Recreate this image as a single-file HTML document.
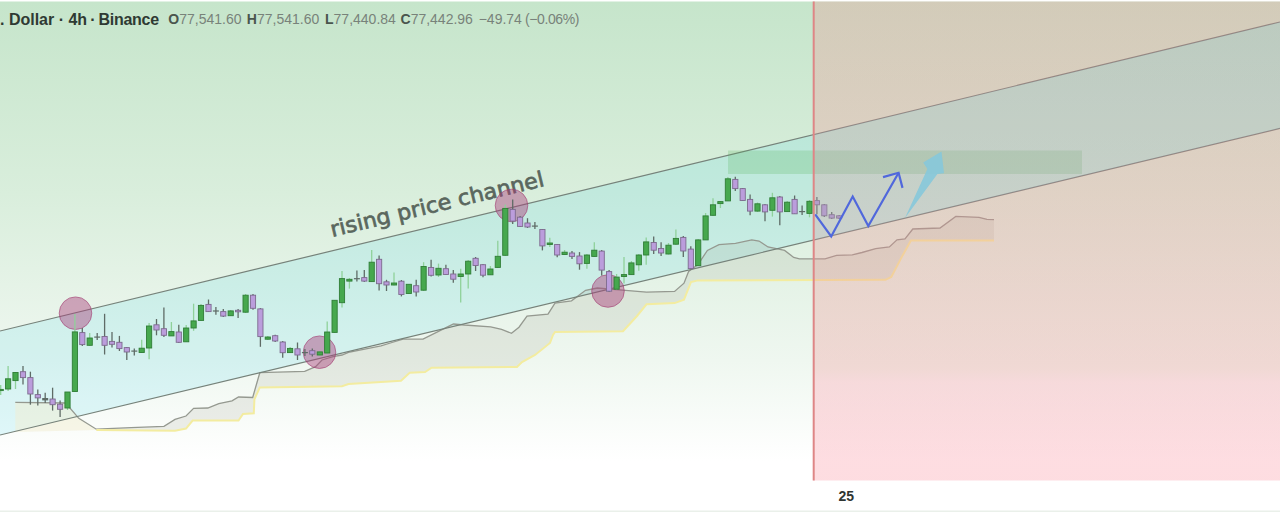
<!DOCTYPE html><html><head><meta charset="utf-8"><style>
html,body{margin:0;padding:0;background:#fff;}
#w{position:relative;width:1280px;height:512px;overflow:hidden;background:#fff;}
svg{position:absolute;left:0;top:0;}
.t{position:absolute;white-space:nowrap;font-family:"Liberation Sans","DejaVu Sans",sans-serif;}
</style></head><body><div id="w">
<svg width="1280" height="512" viewBox="0 0 1280 512">
<defs>
<linearGradient id="gL" x1="0" y1="0" x2="0" y2="1"><stop offset="0" stop-color="#c6e5cb"/><stop offset="0.4" stop-color="#d9eedc"/><stop offset="0.75" stop-color="#eff7f0"/><stop offset="0.93" stop-color="#fdfefd"/><stop offset="0.96" stop-color="#ffffff"/></linearGradient>
</defs>
<rect x="0" y="1.5" width="1280" height="479" fill="url(#gL)"/>
<clipPath id="cl"><rect x="0" y="0" width="813.3" height="512"/></clipPath><clipPath id="cr"><rect x="813.3" y="0" width="466.70000000000005" height="512"/></clipPath>
<polygon points="0,331.0 1280,22.0 1280,128.4 0,435.0" fill="#00c8f0" fill-opacity="0.11" clip-path="url(#cl)"/>
<polygon points="15.3,402.3 65.6,403.0 78.8,418.3 96.3,429.2 96.3,430.0 15.3,432.0" fill="#f2eed2" fill-opacity="0.5"/>
<polygon points="96.3,429.2 131.0,427.7 164.0,426.4 175.0,419.4 186.0,416.0 193.6,408.4 207.8,408.0 218.8,403.6 232.0,400.8 238.5,397.0 252.7,397.5 259.8,372.7 304.7,371.4 315.6,366.6 322.0,360.0 333.0,356.7 342.0,355.0 348.5,352.4 381.0,345.8 392.0,342.5 403.0,339.2 423.0,339.2 436.0,332.7 447.0,327.2 453.5,324.0 464.4,325.0 490.7,326.8 501.6,329.4 511.5,333.3 519.0,327.2 527.0,316.0 548.0,314.1 555.0,303.1 571.5,300.8 585.6,290.3 597.3,288.0 625.4,290.3 646.5,292.1 674.6,291.4 684.0,283.2 688.6,271.5 698.0,264.5 707.4,250.4 719.0,244.6 735.5,243.4 751.8,239.9 759.0,241.0 768.0,247.0 784.6,250.4 793.7,257.4 799.5,258.8 825.0,258.8 836.6,255.4 852.3,254.8 862.0,252.5 875.7,248.6 889.4,247.0 897.0,239.8 905.0,238.8 912.8,229.0 940.0,228.0 955.8,216.4 979.0,217.3 987.0,219.3 994.0,219.7 994.0,240.4 910.9,240.4 901.0,258.4 891.3,276.9 885.5,279.8 698.0,280.4 691.0,282.0 684.0,299.6 674.6,303.1 646.5,304.3 637.0,316.0 623.0,331.2 555.0,332.0 553.0,335.0 550.0,343.0 535.0,355.0 522.0,362.0 517.0,367.0 431.6,367.7 425.0,372.0 409.7,372.7 401.0,380.8 348.5,384.0 342.0,386.3 259.8,387.4 254.4,399.4 253.8,413.3 243.0,414.0 238.5,420.5 192.6,420.5 186.0,428.6 175.0,430.8 96.3,430.0" fill="#9a9a8a" fill-opacity="0.16"/>
<polyline points="15.3,402.3 65.6,403.0 78.8,418.3 96.3,429.2 131.0,427.7 164.0,426.4 175.0,419.4 186.0,416.0 193.6,408.4 207.8,408.0 218.8,403.6 232.0,400.8 238.5,397.0 252.7,397.5 259.8,372.7 304.7,371.4 315.6,366.6 322.0,360.0 333.0,356.7 342.0,355.0 348.5,352.4 381.0,345.8 392.0,342.5 403.0,339.2 423.0,339.2 436.0,332.7 447.0,327.2 453.5,324.0 464.4,325.0 490.7,326.8 501.6,329.4 511.5,333.3 519.0,327.2 527.0,316.0 548.0,314.1 555.0,303.1 571.5,300.8 585.6,290.3 597.3,288.0 625.4,290.3 646.5,292.1 674.6,291.4 684.0,283.2 688.6,271.5 698.0,264.5 707.4,250.4 719.0,244.6 735.5,243.4 751.8,239.9 759.0,241.0 768.0,247.0 784.6,250.4 793.7,257.4 799.5,258.8 825.0,258.8 836.6,255.4 852.3,254.8 862.0,252.5 875.7,248.6 889.4,247.0 897.0,239.8 905.0,238.8 912.8,229.0 940.0,228.0 955.8,216.4 979.0,217.3 987.0,219.3 994.0,219.7" fill="none" stroke="#959990" stroke-width="1.3"/>
<polyline points="96.3,430.0 175.0,430.8 186.0,428.6 192.6,420.5 238.5,420.5 243.0,414.0 253.8,413.3 254.4,399.4 259.8,387.4 342.0,386.3 348.5,384.0 401.0,380.8 409.7,372.7 425.0,372.0 431.6,367.7 517.0,367.0 522.0,362.0 535.0,355.0 550.0,343.0 553.0,335.0 555.0,332.0 623.0,331.2 637.0,316.0 646.5,304.3 674.6,303.1 684.0,299.6 691.0,282.0 698.0,280.4 885.5,279.8 891.3,276.9 901.0,258.4 910.9,240.4 994.0,240.4" fill="none" stroke="#f3eca0" stroke-width="2"/>
<line x1="0" y1="331.0" x2="1280" y2="22.0" stroke="#76827a" stroke-width="1.2"/>
<line x1="0" y1="435.0" x2="1280" y2="128.4" stroke="#76827a" stroke-width="1.2"/>
<rect x="728" y="150.5" width="354" height="23.5" fill="#4caf50" fill-opacity="0.22"/>
<text x="0" y="0" transform="translate(332.2,236.9) rotate(-13.5)" font-family="DejaVu Sans, sans-serif" font-size="21.5" fill="#5a675e" stroke="#5a675e" stroke-width="0.7" textLength="219" lengthAdjust="spacingAndGlyphs">rising price channel</text>
<circle cx="75.5" cy="313.2" r="16.3" fill="#a83c78" fill-opacity="0.44" stroke="#a03c70" stroke-opacity="0.6" stroke-width="1"/>
<circle cx="319.5" cy="352.2" r="16.3" fill="#a83c78" fill-opacity="0.44" stroke="#a03c70" stroke-opacity="0.6" stroke-width="1"/>
<circle cx="511.5" cy="205.5" r="16.3" fill="#a83c78" fill-opacity="0.44" stroke="#a03c70" stroke-opacity="0.6" stroke-width="1"/>
<circle cx="608" cy="291" r="16.3" fill="#a83c78" fill-opacity="0.44" stroke="#a03c70" stroke-opacity="0.6" stroke-width="1"/>
<line x1="0.7" y1="385.0" x2="0.7" y2="395.0" stroke="#8fd19a" stroke-width="1.3"/>
<rect x="-1.9" y="389.4" width="5.2" height="1.2" fill="#46a84e" stroke="#2f7d36" stroke-width="0.9"/>
<line x1="8.1" y1="366.0" x2="8.1" y2="391.0" stroke="#8fd19a" stroke-width="1.3"/>
<rect x="5.5" y="378.8" width="5.2" height="10.2" fill="#46a84e" stroke="#2f7d36" stroke-width="0.9"/>
<line x1="15.5" y1="372.0" x2="15.5" y2="389.0" stroke="#8fd19a" stroke-width="1.3"/>
<rect x="12.9" y="372.5" width="5.2" height="8.1" fill="#46a84e" stroke="#2f7d36" stroke-width="0.9"/>
<line x1="23.0" y1="366.0" x2="23.0" y2="384.4" stroke="#5f6b66" stroke-width="1.3"/>
<rect x="20.4" y="371.7" width="5.2" height="5.9" fill="#bb9ddc" stroke="#7d6a8e" stroke-width="0.9"/>
<line x1="30.4" y1="371.7" x2="30.4" y2="404.7" stroke="#5f6b66" stroke-width="1.3"/>
<rect x="27.8" y="377.6" width="5.2" height="16.4" fill="#bb9ddc" stroke="#7d6a8e" stroke-width="0.9"/>
<line x1="37.8" y1="389.5" x2="37.8" y2="405.5" stroke="#5f6b66" stroke-width="1.3"/>
<rect x="35.2" y="394.6" width="5.2" height="3.3" fill="#bb9ddc" stroke="#7d6a8e" stroke-width="0.9"/>
<line x1="45.2" y1="392.8" x2="45.2" y2="403.0" stroke="#5f6b66" stroke-width="1.3"/>
<rect x="42.2" y="398.0" width="6" height="2.4" fill="#5f6b66"/>
<line x1="52.6" y1="387.7" x2="52.6" y2="410.6" stroke="#5f6b66" stroke-width="1.3"/>
<rect x="50.0" y="399.0" width="5.2" height="5.7" fill="#bb9ddc" stroke="#7d6a8e" stroke-width="0.9"/>
<line x1="60.1" y1="400.4" x2="60.1" y2="417.0" stroke="#5f6b66" stroke-width="1.3"/>
<rect x="57.5" y="404.2" width="5.2" height="5.1" fill="#bb9ddc" stroke="#7d6a8e" stroke-width="0.9"/>
<line x1="67.5" y1="392.0" x2="67.5" y2="410.0" stroke="#8fd19a" stroke-width="1.3"/>
<rect x="64.9" y="392.0" width="5.2" height="16.0" fill="#46a84e" stroke="#2f7d36" stroke-width="0.9"/>
<line x1="74.9" y1="314.0" x2="74.9" y2="391.5" stroke="#8fd19a" stroke-width="1.3"/>
<rect x="72.3" y="331.9" width="5.2" height="59.6" fill="#46a84e" stroke="#2f7d36" stroke-width="0.9"/>
<line x1="82.3" y1="328.0" x2="82.3" y2="346.0" stroke="#5f6b66" stroke-width="1.3"/>
<rect x="79.7" y="332.6" width="5.2" height="12.0" fill="#bb9ddc" stroke="#7d6a8e" stroke-width="0.9"/>
<line x1="89.7" y1="333.0" x2="89.7" y2="346.0" stroke="#8fd19a" stroke-width="1.3"/>
<rect x="87.1" y="338.0" width="5.2" height="7.3" fill="#46a84e" stroke="#2f7d36" stroke-width="0.9"/>
<line x1="97.2" y1="333.0" x2="97.2" y2="340.0" stroke="#5f6b66" stroke-width="1.3"/>
<rect x="94.2" y="336.5" width="6" height="1.2" fill="#5f6b66"/>
<line x1="104.6" y1="313.8" x2="104.6" y2="354.5" stroke="#5f6b66" stroke-width="1.3"/>
<rect x="102.0" y="336.5" width="5.2" height="8.8" fill="#bb9ddc" stroke="#7d6a8e" stroke-width="0.9"/>
<line x1="112.0" y1="332.0" x2="112.0" y2="347.6" stroke="#5f6b66" stroke-width="1.3"/>
<rect x="109.4" y="341.4" width="5.2" height="2.9" fill="#bb9ddc" stroke="#7d6a8e" stroke-width="0.9"/>
<line x1="119.4" y1="335.9" x2="119.4" y2="351.0" stroke="#5f6b66" stroke-width="1.3"/>
<rect x="116.8" y="342.3" width="5.2" height="6.3" fill="#bb9ddc" stroke="#7d6a8e" stroke-width="0.9"/>
<line x1="126.8" y1="347.0" x2="126.8" y2="360.0" stroke="#5f6b66" stroke-width="1.3"/>
<rect x="124.2" y="347.6" width="5.2" height="4.4" fill="#bb9ddc" stroke="#7d6a8e" stroke-width="0.9"/>
<line x1="134.3" y1="348.6" x2="134.3" y2="355.4" stroke="#5f6b66" stroke-width="1.3"/>
<rect x="131.3" y="350.5" width="6" height="1.2" fill="#5f6b66"/>
<line x1="141.7" y1="339.8" x2="141.7" y2="353.0" stroke="#8fd19a" stroke-width="1.3"/>
<rect x="139.1" y="348.2" width="5.2" height="4.3" fill="#46a84e" stroke="#2f7d36" stroke-width="0.9"/>
<line x1="149.1" y1="323.0" x2="149.1" y2="359.3" stroke="#8fd19a" stroke-width="1.3"/>
<rect x="146.5" y="326.0" width="5.2" height="22.0" fill="#46a84e" stroke="#2f7d36" stroke-width="0.9"/>
<line x1="156.5" y1="319.0" x2="156.5" y2="335.3" stroke="#5f6b66" stroke-width="1.3"/>
<rect x="153.9" y="324.8" width="5.2" height="5.2" fill="#bb9ddc" stroke="#7d6a8e" stroke-width="0.9"/>
<line x1="163.9" y1="307.6" x2="163.9" y2="336.9" stroke="#5f6b66" stroke-width="1.3"/>
<rect x="161.3" y="328.7" width="5.2" height="6.6" fill="#bb9ddc" stroke="#7d6a8e" stroke-width="0.9"/>
<line x1="171.4" y1="322.0" x2="171.4" y2="336.0" stroke="#8fd19a" stroke-width="1.3"/>
<rect x="168.8" y="331.6" width="5.2" height="4.3" fill="#46a84e" stroke="#2f7d36" stroke-width="0.9"/>
<line x1="178.8" y1="324.8" x2="178.8" y2="343.0" stroke="#5f6b66" stroke-width="1.3"/>
<rect x="176.2" y="332.0" width="5.2" height="10.3" fill="#bb9ddc" stroke="#7d6a8e" stroke-width="0.9"/>
<line x1="186.2" y1="325.0" x2="186.2" y2="342.0" stroke="#8fd19a" stroke-width="1.3"/>
<rect x="183.6" y="328.0" width="5.2" height="13.8" fill="#46a84e" stroke="#2f7d36" stroke-width="0.9"/>
<line x1="193.6" y1="303.7" x2="193.6" y2="330.8" stroke="#8fd19a" stroke-width="1.3"/>
<rect x="191.0" y="320.9" width="5.2" height="7.1" fill="#46a84e" stroke="#2f7d36" stroke-width="0.9"/>
<line x1="201.0" y1="304.0" x2="201.0" y2="321.0" stroke="#8fd19a" stroke-width="1.3"/>
<rect x="198.4" y="305.4" width="5.2" height="15.0" fill="#46a84e" stroke="#2f7d36" stroke-width="0.9"/>
<line x1="208.5" y1="299.5" x2="208.5" y2="312.0" stroke="#5f6b66" stroke-width="1.3"/>
<rect x="205.9" y="304.4" width="5.2" height="7.2" fill="#bb9ddc" stroke="#7d6a8e" stroke-width="0.9"/>
<line x1="215.9" y1="307.0" x2="215.9" y2="314.8" stroke="#5f6b66" stroke-width="1.3"/>
<rect x="212.9" y="310.4" width="6" height="1.2" fill="#5f6b66"/>
<line x1="223.3" y1="309.0" x2="223.3" y2="317.0" stroke="#5f6b66" stroke-width="1.3"/>
<rect x="220.7" y="311.6" width="5.2" height="4.5" fill="#bb9ddc" stroke="#7d6a8e" stroke-width="0.9"/>
<line x1="230.7" y1="310.0" x2="230.7" y2="316.0" stroke="#8fd19a" stroke-width="1.3"/>
<rect x="228.1" y="310.9" width="5.2" height="4.8" fill="#46a84e" stroke="#2f7d36" stroke-width="0.9"/>
<line x1="238.1" y1="309.0" x2="238.1" y2="318.0" stroke="#5f6b66" stroke-width="1.3"/>
<rect x="235.5" y="310.3" width="5.2" height="1.5" fill="#bb9ddc" stroke="#7d6a8e" stroke-width="0.9"/>
<line x1="245.6" y1="294.0" x2="245.6" y2="313.0" stroke="#8fd19a" stroke-width="1.3"/>
<rect x="243.0" y="295.2" width="5.2" height="17.0" fill="#46a84e" stroke="#2f7d36" stroke-width="0.9"/>
<line x1="253.0" y1="294.0" x2="253.0" y2="309.7" stroke="#5f6b66" stroke-width="1.3"/>
<rect x="250.4" y="295.2" width="5.2" height="13.1" fill="#bb9ddc" stroke="#7d6a8e" stroke-width="0.9"/>
<line x1="260.4" y1="308.0" x2="260.4" y2="346.8" stroke="#5f6b66" stroke-width="1.3"/>
<rect x="257.8" y="308.9" width="5.2" height="27.7" fill="#bb9ddc" stroke="#7d6a8e" stroke-width="0.9"/>
<line x1="267.8" y1="336.0" x2="267.8" y2="340.0" stroke="#8fd19a" stroke-width="1.3"/>
<rect x="265.2" y="337.0" width="5.2" height="2.2" fill="#46a84e" stroke="#2f7d36" stroke-width="0.9"/>
<line x1="275.2" y1="334.7" x2="275.2" y2="342.0" stroke="#5f6b66" stroke-width="1.3"/>
<rect x="272.6" y="335.7" width="5.2" height="5.3" fill="#bb9ddc" stroke="#7d6a8e" stroke-width="0.9"/>
<line x1="282.7" y1="341.0" x2="282.7" y2="357.7" stroke="#5f6b66" stroke-width="1.3"/>
<rect x="280.1" y="342.0" width="5.2" height="10.7" fill="#bb9ddc" stroke="#7d6a8e" stroke-width="0.9"/>
<line x1="290.1" y1="347.0" x2="290.1" y2="353.0" stroke="#8fd19a" stroke-width="1.3"/>
<rect x="287.5" y="348.4" width="5.2" height="4.2" fill="#46a84e" stroke="#2f7d36" stroke-width="0.9"/>
<line x1="297.5" y1="342.5" x2="297.5" y2="360.0" stroke="#5f6b66" stroke-width="1.3"/>
<rect x="294.9" y="348.8" width="5.2" height="6.2" fill="#bb9ddc" stroke="#7d6a8e" stroke-width="0.9"/>
<line x1="304.9" y1="349.0" x2="304.9" y2="356.0" stroke="#5f6b66" stroke-width="1.3"/>
<rect x="301.9" y="352.0" width="6" height="1.2" fill="#5f6b66"/>
<line x1="312.3" y1="348.5" x2="312.3" y2="356.5" stroke="#5f6b66" stroke-width="1.3"/>
<rect x="309.7" y="350.7" width="5.2" height="3.5" fill="#bb9ddc" stroke="#7d6a8e" stroke-width="0.9"/>
<line x1="319.8" y1="351.0" x2="319.8" y2="356.0" stroke="#8fd19a" stroke-width="1.3"/>
<rect x="317.2" y="351.9" width="5.2" height="3.1" fill="#46a84e" stroke="#2f7d36" stroke-width="0.9"/>
<line x1="327.2" y1="321.4" x2="327.2" y2="354.0" stroke="#8fd19a" stroke-width="1.3"/>
<rect x="324.6" y="332.0" width="5.2" height="21.0" fill="#46a84e" stroke="#2f7d36" stroke-width="0.9"/>
<line x1="334.6" y1="300.0" x2="334.6" y2="333.0" stroke="#8fd19a" stroke-width="1.3"/>
<rect x="332.0" y="300.3" width="5.2" height="32.1" fill="#46a84e" stroke="#2f7d36" stroke-width="0.9"/>
<line x1="342.0" y1="271.0" x2="342.0" y2="307.4" stroke="#8fd19a" stroke-width="1.3"/>
<rect x="339.4" y="278.6" width="5.2" height="24.1" fill="#46a84e" stroke="#2f7d36" stroke-width="0.9"/>
<line x1="349.4" y1="278.0" x2="349.4" y2="288.6" stroke="#8fd19a" stroke-width="1.3"/>
<rect x="346.8" y="279.3" width="5.2" height="1.8" fill="#46a84e" stroke="#2f7d36" stroke-width="0.9"/>
<line x1="356.9" y1="270.6" x2="356.9" y2="281.6" stroke="#5f6b66" stroke-width="1.3"/>
<rect x="353.9" y="278.1" width="6" height="1.2" fill="#5f6b66"/>
<line x1="364.3" y1="270.0" x2="364.3" y2="282.0" stroke="#5f6b66" stroke-width="1.3"/>
<rect x="361.7" y="277.6" width="5.2" height="3.5" fill="#bb9ddc" stroke="#7d6a8e" stroke-width="0.9"/>
<line x1="371.7" y1="250.0" x2="371.7" y2="282.0" stroke="#8fd19a" stroke-width="1.3"/>
<rect x="369.1" y="262.2" width="5.2" height="19.4" fill="#46a84e" stroke="#2f7d36" stroke-width="0.9"/>
<line x1="379.1" y1="255.4" x2="379.1" y2="290.5" stroke="#5f6b66" stroke-width="1.3"/>
<rect x="376.5" y="259.3" width="5.2" height="24.4" fill="#bb9ddc" stroke="#7d6a8e" stroke-width="0.9"/>
<line x1="386.5" y1="279.8" x2="386.5" y2="291.0" stroke="#5f6b66" stroke-width="1.3"/>
<rect x="383.9" y="281.8" width="5.2" height="3.2" fill="#bb9ddc" stroke="#7d6a8e" stroke-width="0.9"/>
<line x1="394.0" y1="272.6" x2="394.0" y2="285.5" stroke="#8fd19a" stroke-width="1.3"/>
<rect x="391.4" y="283.0" width="5.2" height="2.0" fill="#46a84e" stroke="#2f7d36" stroke-width="0.9"/>
<line x1="401.4" y1="280.0" x2="401.4" y2="296.4" stroke="#5f6b66" stroke-width="1.3"/>
<rect x="398.8" y="281.2" width="5.2" height="13.3" fill="#bb9ddc" stroke="#7d6a8e" stroke-width="0.9"/>
<line x1="408.8" y1="284.0" x2="408.8" y2="294.0" stroke="#8fd19a" stroke-width="1.3"/>
<rect x="406.2" y="284.3" width="5.2" height="9.2" fill="#46a84e" stroke="#2f7d36" stroke-width="0.9"/>
<line x1="416.2" y1="279.8" x2="416.2" y2="296.4" stroke="#5f6b66" stroke-width="1.3"/>
<rect x="413.6" y="285.7" width="5.2" height="6.3" fill="#bb9ddc" stroke="#7d6a8e" stroke-width="0.9"/>
<line x1="423.6" y1="262.2" x2="423.6" y2="291.0" stroke="#8fd19a" stroke-width="1.3"/>
<rect x="421.0" y="266.5" width="5.2" height="23.7" fill="#46a84e" stroke="#2f7d36" stroke-width="0.9"/>
<line x1="431.1" y1="259.7" x2="431.1" y2="276.5" stroke="#5f6b66" stroke-width="1.3"/>
<rect x="428.5" y="267.5" width="5.2" height="7.8" fill="#bb9ddc" stroke="#7d6a8e" stroke-width="0.9"/>
<line x1="438.5" y1="263.6" x2="438.5" y2="277.0" stroke="#8fd19a" stroke-width="1.3"/>
<rect x="435.9" y="268.3" width="5.2" height="6.7" fill="#46a84e" stroke="#2f7d36" stroke-width="0.9"/>
<line x1="445.9" y1="264.8" x2="445.9" y2="275.0" stroke="#5f6b66" stroke-width="1.3"/>
<rect x="443.3" y="268.7" width="5.2" height="5.8" fill="#bb9ddc" stroke="#7d6a8e" stroke-width="0.9"/>
<line x1="453.3" y1="270.0" x2="453.3" y2="282.7" stroke="#5f6b66" stroke-width="1.3"/>
<rect x="450.7" y="274.0" width="5.2" height="5.2" fill="#bb9ddc" stroke="#7d6a8e" stroke-width="0.9"/>
<line x1="460.7" y1="268.7" x2="460.7" y2="302.6" stroke="#8fd19a" stroke-width="1.3"/>
<rect x="458.1" y="274.0" width="5.2" height="2.5" fill="#46a84e" stroke="#2f7d36" stroke-width="0.9"/>
<line x1="468.2" y1="260.0" x2="468.2" y2="288.6" stroke="#8fd19a" stroke-width="1.3"/>
<rect x="465.6" y="261.2" width="5.2" height="12.8" fill="#46a84e" stroke="#2f7d36" stroke-width="0.9"/>
<line x1="475.6" y1="257.0" x2="475.6" y2="271.0" stroke="#5f6b66" stroke-width="1.3"/>
<rect x="473.0" y="258.3" width="5.2" height="7.2" fill="#bb9ddc" stroke="#7d6a8e" stroke-width="0.9"/>
<line x1="483.0" y1="264.0" x2="483.0" y2="277.2" stroke="#5f6b66" stroke-width="1.3"/>
<rect x="480.4" y="264.7" width="5.2" height="10.5" fill="#bb9ddc" stroke="#7d6a8e" stroke-width="0.9"/>
<line x1="490.4" y1="266.0" x2="490.4" y2="275.0" stroke="#8fd19a" stroke-width="1.3"/>
<rect x="487.8" y="269.0" width="5.2" height="5.8" fill="#46a84e" stroke="#2f7d36" stroke-width="0.9"/>
<line x1="497.8" y1="240.7" x2="497.8" y2="268.0" stroke="#8fd19a" stroke-width="1.3"/>
<rect x="495.2" y="256.3" width="5.2" height="11.1" fill="#46a84e" stroke="#2f7d36" stroke-width="0.9"/>
<line x1="505.3" y1="204.5" x2="505.3" y2="256.0" stroke="#8fd19a" stroke-width="1.3"/>
<rect x="502.7" y="208.4" width="5.2" height="46.9" fill="#46a84e" stroke="#2f7d36" stroke-width="0.9"/>
<line x1="512.7" y1="199.6" x2="512.7" y2="224.0" stroke="#5f6b66" stroke-width="1.3"/>
<rect x="510.1" y="209.4" width="5.2" height="11.7" fill="#bb9ddc" stroke="#7d6a8e" stroke-width="0.9"/>
<line x1="520.1" y1="216.0" x2="520.1" y2="227.0" stroke="#5f6b66" stroke-width="1.3"/>
<rect x="517.5" y="217.2" width="5.2" height="9.2" fill="#bb9ddc" stroke="#7d6a8e" stroke-width="0.9"/>
<line x1="527.5" y1="218.2" x2="527.5" y2="228.0" stroke="#5f6b66" stroke-width="1.3"/>
<rect x="524.9" y="223.0" width="5.2" height="4.0" fill="#bb9ddc" stroke="#7d6a8e" stroke-width="0.9"/>
<line x1="534.9" y1="222.0" x2="534.9" y2="229.0" stroke="#5f6b66" stroke-width="1.3"/>
<rect x="531.9" y="225.5" width="6" height="1.2" fill="#5f6b66"/>
<line x1="542.4" y1="229.0" x2="542.4" y2="250.4" stroke="#5f6b66" stroke-width="1.3"/>
<rect x="539.8" y="229.5" width="5.2" height="16.4" fill="#bb9ddc" stroke="#7d6a8e" stroke-width="0.9"/>
<line x1="549.8" y1="237.7" x2="549.8" y2="247.1" stroke="#8fd19a" stroke-width="1.3"/>
<rect x="547.2" y="243.0" width="5.2" height="1.5" fill="#46a84e" stroke="#2f7d36" stroke-width="0.9"/>
<line x1="557.2" y1="244.0" x2="557.2" y2="257.3" stroke="#5f6b66" stroke-width="1.3"/>
<rect x="554.6" y="244.5" width="5.2" height="10.5" fill="#bb9ddc" stroke="#7d6a8e" stroke-width="0.9"/>
<line x1="564.6" y1="250.0" x2="564.6" y2="255.0" stroke="#8fd19a" stroke-width="1.3"/>
<rect x="562.0" y="252.2" width="5.2" height="2.3" fill="#46a84e" stroke="#2f7d36" stroke-width="0.9"/>
<line x1="572.0" y1="251.0" x2="572.0" y2="259.0" stroke="#5f6b66" stroke-width="1.3"/>
<rect x="569.4" y="253.0" width="5.2" height="3.4" fill="#bb9ddc" stroke="#7d6a8e" stroke-width="0.9"/>
<line x1="579.5" y1="252.1" x2="579.5" y2="269.7" stroke="#5f6b66" stroke-width="1.3"/>
<rect x="576.9" y="256.0" width="5.2" height="7.8" fill="#bb9ddc" stroke="#7d6a8e" stroke-width="0.9"/>
<line x1="586.9" y1="254.0" x2="586.9" y2="268.7" stroke="#8fd19a" stroke-width="1.3"/>
<rect x="584.3" y="255.0" width="5.2" height="8.4" fill="#46a84e" stroke="#2f7d36" stroke-width="0.9"/>
<line x1="594.3" y1="242.3" x2="594.3" y2="257.0" stroke="#8fd19a" stroke-width="1.3"/>
<rect x="591.7" y="250.2" width="5.2" height="6.2" fill="#46a84e" stroke="#2f7d36" stroke-width="0.9"/>
<line x1="601.7" y1="250.0" x2="601.7" y2="275.5" stroke="#5f6b66" stroke-width="1.3"/>
<rect x="599.1" y="251.1" width="5.2" height="19.0" fill="#bb9ddc" stroke="#7d6a8e" stroke-width="0.9"/>
<line x1="609.1" y1="270.0" x2="609.1" y2="292.0" stroke="#5f6b66" stroke-width="1.3"/>
<rect x="606.5" y="271.6" width="5.2" height="19.6" fill="#bb9ddc" stroke="#7d6a8e" stroke-width="0.9"/>
<line x1="616.6" y1="274.0" x2="616.6" y2="290.0" stroke="#8fd19a" stroke-width="1.3"/>
<rect x="614.0" y="277.1" width="5.2" height="12.1" fill="#46a84e" stroke="#2f7d36" stroke-width="0.9"/>
<line x1="624.0" y1="257.0" x2="624.0" y2="283.4" stroke="#8fd19a" stroke-width="1.3"/>
<rect x="621.4" y="274.6" width="5.2" height="1.9" fill="#46a84e" stroke="#2f7d36" stroke-width="0.9"/>
<line x1="631.4" y1="261.0" x2="631.4" y2="275.0" stroke="#8fd19a" stroke-width="1.3"/>
<rect x="628.8" y="262.9" width="5.2" height="11.7" fill="#46a84e" stroke="#2f7d36" stroke-width="0.9"/>
<line x1="638.8" y1="254.0" x2="638.8" y2="270.7" stroke="#8fd19a" stroke-width="1.3"/>
<rect x="636.2" y="255.0" width="5.2" height="9.8" fill="#46a84e" stroke="#2f7d36" stroke-width="0.9"/>
<line x1="646.2" y1="237.5" x2="646.2" y2="264.8" stroke="#8fd19a" stroke-width="1.3"/>
<rect x="643.6" y="241.9" width="5.2" height="13.1" fill="#46a84e" stroke="#2f7d36" stroke-width="0.9"/>
<line x1="653.7" y1="236.4" x2="653.7" y2="254.0" stroke="#5f6b66" stroke-width="1.3"/>
<rect x="651.1" y="242.5" width="5.2" height="7.7" fill="#bb9ddc" stroke="#7d6a8e" stroke-width="0.9"/>
<line x1="661.1" y1="242.3" x2="661.1" y2="256.0" stroke="#5f6b66" stroke-width="1.3"/>
<rect x="658.5" y="248.5" width="5.2" height="4.5" fill="#bb9ddc" stroke="#7d6a8e" stroke-width="0.9"/>
<line x1="668.5" y1="243.0" x2="668.5" y2="254.5" stroke="#8fd19a" stroke-width="1.3"/>
<rect x="665.9" y="245.2" width="5.2" height="8.8" fill="#46a84e" stroke="#2f7d36" stroke-width="0.9"/>
<line x1="675.9" y1="229.6" x2="675.9" y2="245.0" stroke="#8fd19a" stroke-width="1.3"/>
<rect x="673.3" y="238.4" width="5.2" height="5.8" fill="#46a84e" stroke="#2f7d36" stroke-width="0.9"/>
<line x1="683.3" y1="236.0" x2="683.3" y2="256.9" stroke="#5f6b66" stroke-width="1.3"/>
<rect x="680.7" y="237.4" width="5.2" height="13.6" fill="#bb9ddc" stroke="#7d6a8e" stroke-width="0.9"/>
<line x1="690.8" y1="246.2" x2="690.8" y2="269.0" stroke="#5f6b66" stroke-width="1.3"/>
<rect x="688.2" y="249.1" width="5.2" height="19.5" fill="#bb9ddc" stroke="#7d6a8e" stroke-width="0.9"/>
<line x1="698.2" y1="239.0" x2="698.2" y2="266.0" stroke="#8fd19a" stroke-width="1.3"/>
<rect x="695.6" y="239.9" width="5.2" height="25.8" fill="#46a84e" stroke="#2f7d36" stroke-width="0.9"/>
<line x1="705.6" y1="213.0" x2="705.6" y2="240.0" stroke="#8fd19a" stroke-width="1.3"/>
<rect x="703.0" y="215.9" width="5.2" height="24.0" fill="#46a84e" stroke="#2f7d36" stroke-width="0.9"/>
<line x1="713.0" y1="198.3" x2="713.0" y2="216.0" stroke="#8fd19a" stroke-width="1.3"/>
<rect x="710.4" y="204.8" width="5.2" height="10.5" fill="#46a84e" stroke="#2f7d36" stroke-width="0.9"/>
<line x1="720.4" y1="201.0" x2="720.4" y2="208.0" stroke="#8fd19a" stroke-width="1.3"/>
<rect x="717.8" y="201.6" width="5.2" height="2.0" fill="#46a84e" stroke="#2f7d36" stroke-width="0.9"/>
<line x1="727.9" y1="177.0" x2="727.9" y2="201.0" stroke="#8fd19a" stroke-width="1.3"/>
<rect x="725.3" y="178.8" width="5.2" height="22.1" fill="#46a84e" stroke="#2f7d36" stroke-width="0.9"/>
<line x1="735.3" y1="176.8" x2="735.3" y2="191.1" stroke="#5f6b66" stroke-width="1.3"/>
<rect x="732.7" y="179.4" width="5.2" height="9.2" fill="#bb9ddc" stroke="#7d6a8e" stroke-width="0.9"/>
<line x1="742.7" y1="188.0" x2="742.7" y2="201.0" stroke="#5f6b66" stroke-width="1.3"/>
<rect x="740.1" y="188.6" width="5.2" height="11.9" fill="#bb9ddc" stroke="#7d6a8e" stroke-width="0.9"/>
<line x1="750.1" y1="194.4" x2="750.1" y2="215.3" stroke="#5f6b66" stroke-width="1.3"/>
<rect x="747.5" y="199.4" width="5.2" height="11.7" fill="#bb9ddc" stroke="#7d6a8e" stroke-width="0.9"/>
<line x1="757.5" y1="202.5" x2="757.5" y2="212.0" stroke="#8fd19a" stroke-width="1.3"/>
<rect x="754.9" y="203.8" width="5.2" height="7.3" fill="#46a84e" stroke="#2f7d36" stroke-width="0.9"/>
<line x1="765.0" y1="204.0" x2="765.0" y2="221.3" stroke="#5f6b66" stroke-width="1.3"/>
<rect x="762.4" y="204.8" width="5.2" height="7.1" fill="#bb9ddc" stroke="#7d6a8e" stroke-width="0.9"/>
<line x1="772.4" y1="192.8" x2="772.4" y2="216.6" stroke="#8fd19a" stroke-width="1.3"/>
<rect x="769.8" y="197.8" width="5.2" height="12.5" fill="#46a84e" stroke="#2f7d36" stroke-width="0.9"/>
<line x1="779.8" y1="196.0" x2="779.8" y2="225.2" stroke="#5f6b66" stroke-width="1.3"/>
<rect x="777.2" y="197.0" width="5.2" height="14.9" fill="#bb9ddc" stroke="#7d6a8e" stroke-width="0.9"/>
<line x1="787.2" y1="201.0" x2="787.2" y2="212.0" stroke="#8fd19a" stroke-width="1.3"/>
<rect x="784.6" y="202.2" width="5.2" height="9.4" fill="#46a84e" stroke="#2f7d36" stroke-width="0.9"/>
<line x1="794.6" y1="195.5" x2="794.6" y2="214.0" stroke="#5f6b66" stroke-width="1.3"/>
<rect x="792.0" y="199.4" width="5.2" height="14.4" fill="#bb9ddc" stroke="#7d6a8e" stroke-width="0.9"/>
<line x1="802.1" y1="205.6" x2="802.1" y2="215.0" stroke="#5f6b66" stroke-width="1.3"/>
<rect x="799.1" y="211.0" width="6" height="1.2" fill="#5f6b66"/>
<line x1="809.5" y1="200.0" x2="809.5" y2="217.3" stroke="#8fd19a" stroke-width="1.3"/>
<rect x="806.9" y="201.3" width="5.2" height="12.1" fill="#46a84e" stroke="#2f7d36" stroke-width="0.9"/>
<line x1="816.9" y1="197.0" x2="816.9" y2="214.2" stroke="#5f6b66" stroke-width="1.3"/>
<rect x="814.3" y="200.6" width="5.2" height="4.2" fill="#bb9ddc" stroke="#7d6a8e" stroke-width="0.9"/>
<line x1="824.3" y1="204.0" x2="824.3" y2="217.0" stroke="#5f6b66" stroke-width="1.3"/>
<rect x="821.7" y="204.8" width="5.2" height="11.0" fill="#bb9ddc" stroke="#7d6a8e" stroke-width="0.9"/>
<line x1="831.7" y1="212.0" x2="831.7" y2="219.0" stroke="#5f6b66" stroke-width="1.3"/>
<rect x="829.1" y="214.7" width="5.2" height="3.4" fill="#bb9ddc" stroke="#7d6a8e" stroke-width="0.9"/>
<line x1="839.2" y1="215.0" x2="839.2" y2="219.0" stroke="#5f6b66" stroke-width="1.3"/>
<rect x="836.6" y="215.8" width="5.2" height="2.3" fill="#bb9ddc" stroke="#7d6a8e" stroke-width="0.9"/>
<defs><linearGradient id="gO" x1="0" y1="0" x2="0" y2="1"><stop offset="0" stop-color="#f09090" stop-opacity="0.3"/><stop offset="0.765" stop-color="#f09090" stop-opacity="0.3"/><stop offset="0.795" stop-color="#ff92a4" stop-opacity="0.3"/><stop offset="1" stop-color="#fa8c9a" stop-opacity="0.3"/></linearGradient></defs>
<rect x="813.3" y="1.5" width="466.70000000000005" height="479" fill="url(#gO)"/>
<polygon points="0,331.0 1280,22.0 1280,128.4 0,435.0" fill="#00c8f0" fill-opacity="0.11" clip-path="url(#cr)"/>
<polyline points="815.2,214.4 831.2,236.5 852.7,196.6 868.3,226 898.6,172.8" fill="none" stroke="#5068dc" stroke-width="2.2" stroke-linejoin="miter"/>
<polyline points="883,177.1 898.6,172.8 902.5,187.9" fill="none" stroke="#5068dc" stroke-width="2.2" stroke-linejoin="miter"/>
<polygon points="905,218 927.4,169 923.2,162.4 941.5,151.6 944,173.2 937.4,174" fill="#86c8da" fill-opacity="0.9"/>
<rect x="812.7" y="1.5" width="2" height="479" fill="#de8686"/>
<rect x="0" y="510.5" width="1280" height="1.5" fill="#eaf0ea"/>
</svg>
<div class="t" style="left:0px;top:11.3px;font-size:16px;font-weight:bold;color:#2f3a33;">. Dollar · 4h</div>
<div class="t" style="left:90.3px;top:11.3px;font-size:16px;font-weight:bold;color:#2f3a33;">·</div>
<div class="t" style="left:98.6px;top:11.3px;font-size:16px;font-weight:bold;color:#2f3a33;letter-spacing:-0.3px;">Binance</div>
<div class="t" style="left:168.3px;top:11px;font-size:14px;color:#78827a;"><b style="color:#4a554d">O</b>77,541.60</div>
<div class="t" style="left:246.8px;top:11px;font-size:14px;color:#78827a;"><b style="color:#4a554d">H</b>77,541.60</div>
<div class="t" style="left:325px;top:11px;font-size:14px;color:#78827a;"><b style="color:#4a554d">L</b>77,440.84</div>
<div class="t" style="left:400.5px;top:11px;font-size:14px;color:#78827a;"><b style="color:#4a554d">C</b>77,442.96</div>
<div class="t" style="left:478.7px;top:11px;font-size:14px;color:#78827a;">−49.74</div>
<div class="t" style="left:525px;top:11px;font-size:14px;color:#78827a;letter-spacing:-0.4px;">(−0.06%)</div>
<div class="t" style="left:838.5px;top:487.5px;font-size:14px;font-weight:bold;color:#2f3632;">25</div>
</div></body></html>
